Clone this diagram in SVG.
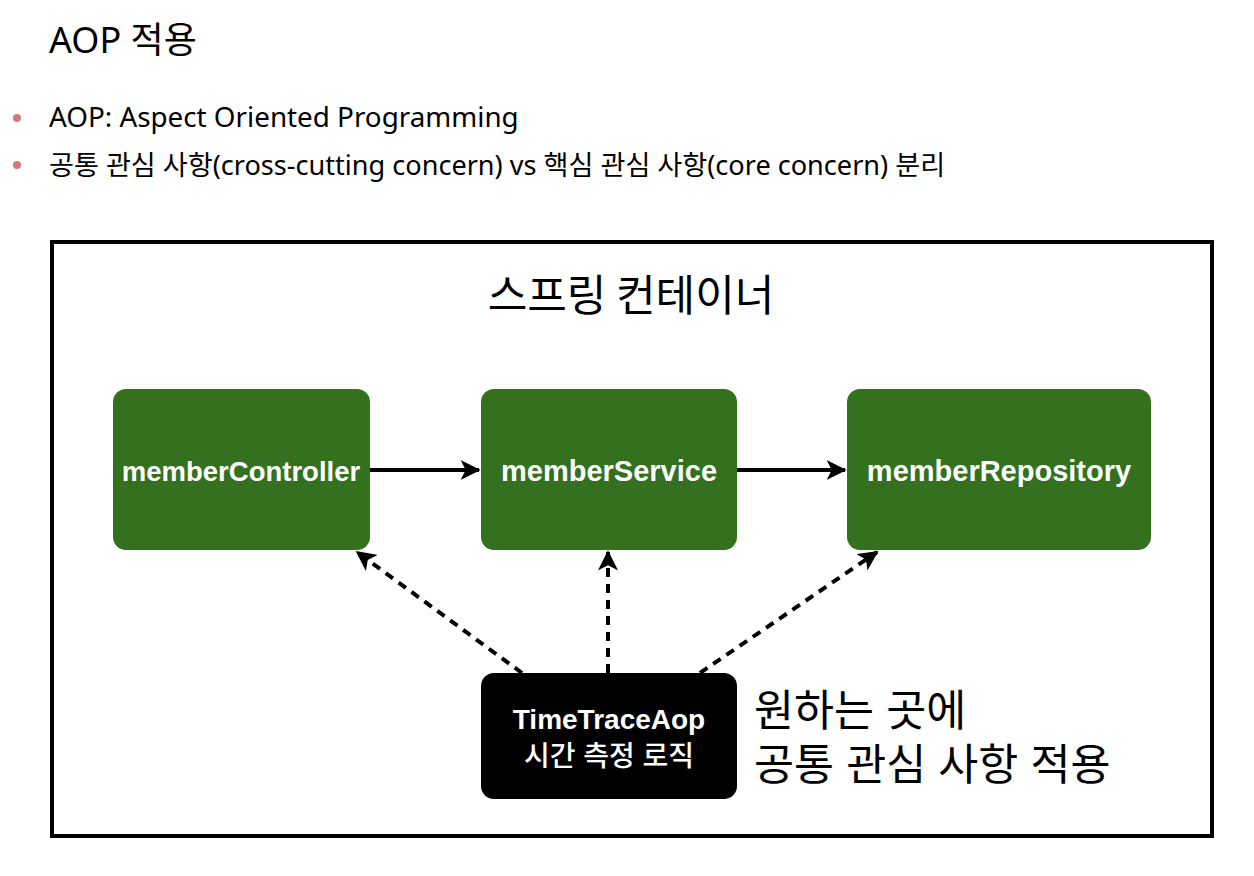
<svg xmlns="http://www.w3.org/2000/svg" width="1254" height="876" viewBox="0 0 1254 876">
<style>
.hdr{font-family:"Noto Sans","Noto Sans CJK KR",sans-serif;fill:#000}
.node{fill:#33711f}
.lbl{font-family:"Liberation Sans","Noto Sans CJK KR",sans-serif;font-weight:bold;fill:#fff;text-anchor:middle}
.kr{font-family:"Noto Sans CJK KR","Liberation Sans",sans-serif;fill:#000}
.note{font-family:"Liberation Sans","Noto Sans CJK KR",sans-serif;fill:#000}
.solid{stroke:#000;stroke-width:4;fill:none}
.dash{stroke:#000;stroke-width:4;fill:none;stroke-dasharray:9 7}
</style>
<defs>
<marker id="ah" viewBox="0 0 12 12" refX="11" refY="6" markerWidth="5" markerHeight="5" markerUnits="strokeWidth" orient="auto">
<path d="M0,0 L12,6 L0,12 L3,6 Z" fill="#000"/>
</marker>
</defs>
<rect width="1254" height="876" fill="#fff"/>
<g id="header">
<text class="hdr" x="49" y="53" font-size="36">AOP 적용</text>
<circle cx="17" cy="118" r="4" fill="#d27a7a"/>
<text class="hdr" x="49" y="127" font-size="27.8">AOP: Aspect Oriented Programming</text>
<circle cx="17" cy="165" r="4" fill="#d27a7a"/>
<text class="hdr" x="49" y="175" font-size="27.1">공통 관심 사항(cross-cutting concern) vs 핵심 관심 사항(core concern) 분리</text>
</g>
<g id="container">
<rect x="52" y="242" width="1160" height="594" fill="none" stroke="#000" stroke-width="4"/>
<text class="kr" x="631" y="311" font-size="43" text-anchor="middle">스프링 컨테이너</text>
</g>
<g id="connectors">
<line class="solid" x1="370" y1="470" x2="479" y2="470" marker-end="url(#ah)"/>
<line class="solid" x1="737" y1="470" x2="845" y2="470" marker-end="url(#ah)"/>
<line class="dash" x1="522" y1="673" x2="357" y2="552" marker-end="url(#ah)"/>
<line class="dash" x1="608" y1="673" x2="608" y2="552" marker-end="url(#ah)"/>
<line class="dash" x1="700" y1="673" x2="877" y2="552" marker-end="url(#ah)"/>
</g>
<g id="memberController">
<rect class="node" x="113" y="389" width="257" height="161" rx="13"/>
<text class="lbl" x="241" y="481" font-size="27.5">memberController</text>
</g>
<g id="memberService">
<rect class="node" x="481" y="389" width="256" height="161" rx="13"/>
<text class="lbl" x="609" y="481" font-size="29">memberService</text>
</g>
<g id="memberRepository">
<rect class="node" x="847" y="389" width="304" height="161" rx="13"/>
<text class="lbl" x="999" y="481" font-size="29">memberRepository</text>
</g>
<g id="timeTraceAop">
<rect x="481" y="673" width="256" height="126" rx="13" fill="#000"/>
<text class="lbl" x="609" y="729" font-size="28">TimeTraceAop</text>
<text class="lbl" x="609" y="766" font-size="28" style="font-weight:500">시간 측정 로직</text>
</g>
<g id="note">
<text class="note" x="754" y="726" font-size="43.5">원하는 곳에</text>
<text class="note" x="754" y="780" font-size="43.5">공통 관심 사항 적용</text>
</g>
</svg>
